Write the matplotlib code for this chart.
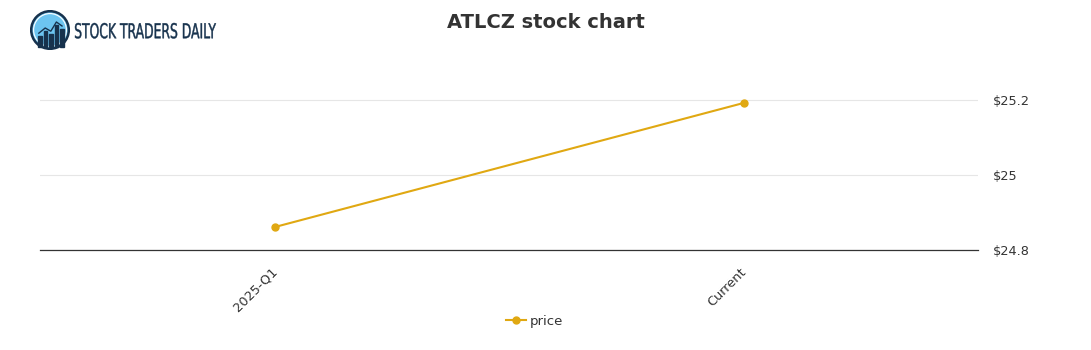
import matplotlib
matplotlib.use("Agg")
import matplotlib.pyplot as plt
from matplotlib.patches import Circle, Rectangle, PathPatch
from matplotlib.textpath import TextPath
from matplotlib.font_manager import FontProperties
from matplotlib.transforms import Affine2D, ScaledTranslation

# data
categories = ["2025-Q1", "Current"]
prices = [24.861, 25.192]
y_ticks = [24.8, 25.0, 25.2]
y_labels = ["$24.8", "$25", "$25.2"]

line_color = "#e0a812"
text_color = "#333333"
navy = "#17324d"

fig = plt.figure(figsize=(10.91, 3.5), dpi=100)
ax = fig.add_axes([40 / 1091, 1 - 250 / 350, 938 / 1091, 180 / 350])

x = list(range(len(categories)))
ax.plot(x, prices, color=line_color, lw=1.5, marker="o", ms=5, label="price")
ax.set_xlim(-0.5, len(categories) - 0.5)
ax.set_ylim(24.8, 25.28)

ax.set_xticks(x)
ax.set_xticklabels(categories, rotation=45, ha="right", rotation_mode="anchor",
                   fontsize=9.3, color=text_color)
ax.set_yticks(y_ticks)
ax.set_yticklabels(y_labels, fontsize=9.3, color=text_color)
ax.yaxis.tick_right()
ax.tick_params(axis="y", length=0, pad=11)
ax.tick_params(axis="x", length=0, pad=8)
# nudge the rotated labels to where the original puts them
off = ScaledTranslation(-4 / 100, -4 / 100, fig.dpi_scale_trans)
for lbl in ax.get_xticklabels():
    lbl.set_transform(lbl.get_transform() + off)
ax.grid(axis="y", color="#e6e6e6", lw=0.8)
for s in ["top", "left", "right"]:
    ax.spines[s].set_visible(False)
ax.spines["bottom"].set_color("#333333")
ax.spines["bottom"].set_linewidth(0.9)
ax.set_axisbelow(True)

fig.legend(loc="center", bbox_to_anchor=(535 / 1091, 1 - 321 / 350), frameon=False,
           fontsize=9.5, labelcolor=text_color, handlelength=1.5, handletextpad=0.3)

fig.text(546 / 1091, 1 - 23 / 350, "ATLCZ stock chart", ha="center", va="center",
         fontsize=14, fontweight="bold", color=text_color)

# logo mark
lax = fig.add_axes([30 / 1091, 1 - 50 / 350, 40 / 1091, 40 / 350])
lax.set_xlim(0, 1)
lax.set_ylim(0, 1)
lax.axis("off")
lax.add_patch(Circle((0.5, 0.5), 0.47, facecolor="#6cc4f0", edgecolor=navy, lw=1.8))
lax.add_patch(Circle((0.5, 0.5), 0.41, facecolor="none", edgecolor="white", lw=0.8))
for bx, bh in [(0.2, 0.28), (0.34, 0.4), (0.48, 0.32), (0.62, 0.55), (0.76, 0.45)]:
    lax.add_patch(Rectangle((bx, 0.08), 0.09, bh, color=navy))
lax.plot([0.22, 0.38, 0.52, 0.66, 0.8], [0.42, 0.55, 0.47, 0.7, 0.6], color=navy, lw=1)

# logo text squeezed into the condensed look of the original
pax = fig.add_axes([0, 0, 1, 1])
pax.set_xlim(0, 1091)
pax.set_ylim(350, 0)
pax.axis("off")
tp = TextPath((0, 0), "STOCK TRADERS DAILY", prop=FontProperties(family="DejaVu Sans"))
bb = tp.get_extents()
sx = 141 / bb.width
sy = 15.5 / bb.height
tr = Affine2D().translate(-bb.x0, -bb.y0).scale(sx, -sy).translate(75, 38.5)
pax.add_patch(PathPatch(tr.transform_path(tp), facecolor=navy, edgecolor=navy, lw=0.3))

fig.savefig("out.png", dpi=100)
